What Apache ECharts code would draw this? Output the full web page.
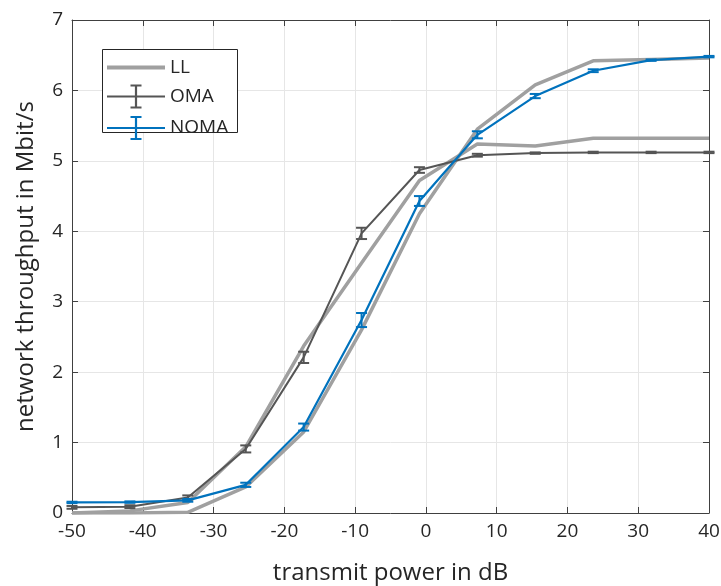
<!DOCTYPE html>
<html>
<head>
<meta charset="utf-8">
<script src="https://cdn.jsdelivr.net/npm/echarts@6/dist/echarts.min.js"></script>
<style>
  html, body { margin: 0; padding: 0; background: #fff; }
  #chart { width: 721px; height: 586px; }
</style>
</head>
<body>
<div id="chart"></div>
<script>
// Transmit power sweep (dB)
const power = [-50, -41.82, -33.64, -25.45, -17.27, -9.09, -0.91, 7.27, 15.45, 23.64, 31.82, 40];

// Link-level reference curves
const llOma  = [0, 0.03, 0.15, 0.94, 2.37, 3.55, 4.72, 5.24, 5.21, 5.32, 5.32, 5.32];
const llNoma = [0, 0, 0.01, 0.37, 1.15, 2.60, 4.25, 5.45, 6.08, 6.42, 6.44, 6.46];

// Simulated throughput (mean) and half-width of the confidence interval
const oma     = [0.08, 0.09, 0.22, 0.91, 2.21, 3.97, 4.87, 5.08, 5.11, 5.12, 5.12, 5.12];
const omaErr  = [0.02, 0.02, 0.03, 0.05, 0.08, 0.08, 0.04, 0.02, 0.01, 0.01, 0.01, 0.01];
const noma    = [0.15, 0.155, 0.18, 0.40, 1.22, 2.74, 4.43, 5.37, 5.92, 6.28, 6.43, 6.48];
const nomaErr = [0.01, 0.01, 0.02, 0.03, 0.05, 0.10, 0.07, 0.05, 0.03, 0.02, 0.01, 0.01];

const xTicks = [-50, -40, -30, -20, -10, 0, 10, 20, 30, 40];
const yTicks = [0, 1, 2, 3, 4, 5, 6, 7];

const FONT = 'Open Sans';
const TEXT = '#262626';
const AXIS = '#404040';
const C_LL = '#a0a0a0';
const C_OMA = '#555555';
const C_NOMA = '#0072BD';

const pairs = ys => power.map((x, i) => [x, ys[i]]);
const bars = (ys, es) => power.map((x, i) => [x, ys[i] - es[i], ys[i] + es[i]]);

function errorBars(color) {
  return function (params, api) {
    const x = api.value(0);
    const lo = api.coord([x, api.value(1)]);
    const hi = api.coord([x, api.value(2)]);
    const half = 5.5;
    const style = { stroke: color, lineWidth: 2, fill: null };
    return {
      type: 'group',
      children: [
        { type: 'line', shape: { x1: lo[0], y1: lo[1], x2: hi[0], y2: hi[1] }, style },
        { type: 'line', shape: { x1: lo[0] - half, y1: lo[1], x2: lo[0] + half, y2: lo[1] }, style },
        { type: 'line', shape: { x1: hi[0] - half, y1: hi[1], x2: hi[0] + half, y2: hi[1] }, style }
      ]
    };
  };
}

// Legend glyphs: plain line, and line with an error bar
const iconLine = 'path://M0 0H58V4H0Z';
const iconBar = 'path://M0 10.9H58V13.1H0Z M27.9 1H30.1V23H27.9Z M23.5 0H34.5V2H23.5Z M23.5 22H34.5V24H23.5Z';

const axisCommon = {
  axisLine: { show: true, onZero: false, lineStyle: { color: AXIS, width: 1 } },
  axisTick: { show: true, inside: true, length: 6, lineStyle: { color: AXIS } }
};

const chart = echarts.init(document.getElementById('chart'), null, { renderer: 'canvas' });
chart.setOption({
  backgroundColor: '#fff',
  animation: false,
  grid: { left: 72, right: 12, top: 20, bottom: 73, containLabel: false, outerBoundsMode: 'none' },
  xAxis: [
    Object.assign({
      type: 'value', min: xTicks[0], max: xTicks[xTicks.length - 1], interval: 10,
      position: 'bottom',
      name: 'transmit power in dB', nameLocation: 'middle', nameGap: 48,
      nameTextStyle: { fontFamily: FONT, fontSize: 24, color: TEXT },
      axisLabel: { fontFamily: FONT, fontSize: 19, color: TEXT, margin: 9 },
      splitLine: { show: true, lineStyle: { color: '#e6e6e6', width: 1 } }
    }, axisCommon),
    Object.assign({
      type: 'value', min: xTicks[0], max: xTicks[xTicks.length - 1], interval: 10,
      position: 'top', axisLabel: { show: false }, splitLine: { show: false }
    }, axisCommon)
  ],
  yAxis: [
    Object.assign({
      type: 'value', min: yTicks[0], max: yTicks[yTicks.length - 1], interval: 1,
      position: 'left',
      name: 'network throughput in Mbit/s', nameLocation: 'middle', nameGap: 34,
      nameTextStyle: { fontFamily: FONT, fontSize: 24, color: TEXT },
      axisLabel: { fontFamily: FONT, fontSize: 19, color: TEXT, margin: 9 },
      splitLine: { show: true, lineStyle: { color: '#e6e6e6', width: 1 } }
    }, axisCommon),
    Object.assign({
      type: 'value', min: yTicks[0], max: yTicks[yTicks.length - 1], interval: 1,
      position: 'right', axisLabel: { show: false }, splitLine: { show: false }
    }, axisCommon)
  ],
  legend: {
    orient: 'vertical', left: 107, top: 58, padding: 0,
    itemWidth: 58, itemHeight: 24, itemGap: 7.5, itemTextGap: 5,
    itemStyle: { borderWidth: 0 },
    textStyle: { fontFamily: FONT, fontSize: 19, color: TEXT },
    data: [
      { name: 'LL', icon: iconLine },
      { name: 'OMA', icon: iconBar },
      { name: 'NOMA', icon: iconBar }
    ],
    z: 5
  },
  graphic: [{
    type: 'rect', left: 102, top: 49, z: 4,
    shape: { width: 135, height: 83 },
    style: { fill: '#fff', stroke: TEXT, lineWidth: 1 }
  }],
  series: [
    {
      name: 'LL', type: 'line', data: pairs(llOma), symbol: 'none', z: 1,
      lineStyle: { color: C_LL, width: 3.5 }, itemStyle: { color: C_LL }
    },
    {
      name: 'LL', type: 'line', data: pairs(llNoma), symbol: 'none', z: 1,
      lineStyle: { color: C_LL, width: 3.5 }, itemStyle: { color: C_LL }
    },
    {
      name: 'OMA', type: 'line', data: pairs(oma), symbol: 'none', z: 2,
      lineStyle: { color: C_OMA, width: 2 }, itemStyle: { color: C_OMA }
    },
    {
      name: 'OMA interval', type: 'custom', data: bars(oma, omaErr), z: 2,
      renderItem: errorBars(C_OMA), encode: { x: 0, y: [1, 2] }
    },
    {
      name: 'NOMA', type: 'line', data: pairs(noma), symbol: 'none', z: 3,
      lineStyle: { color: C_NOMA, width: 2.2 }, itemStyle: { color: C_NOMA }
    },
    {
      name: 'NOMA interval', type: 'custom', data: bars(noma, nomaErr), z: 3,
      renderItem: errorBars(C_NOMA), encode: { x: 0, y: [1, 2] }
    }
  ]
});
</script>
</body>
</html>
